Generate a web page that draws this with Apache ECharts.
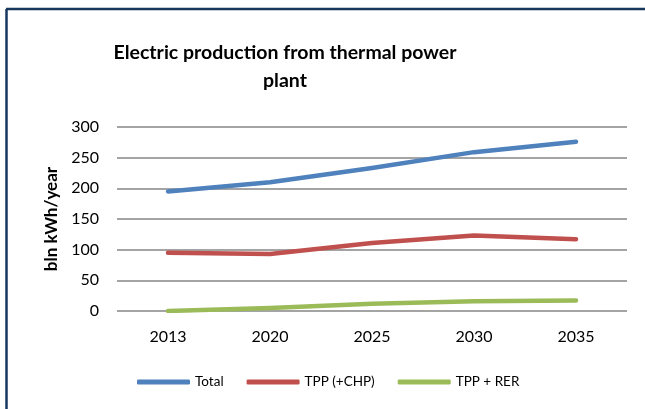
<!DOCTYPE html>
<html>
<head>
<meta charset="utf-8">
<script src="https://cdn.jsdelivr.net/npm/echarts@6/dist/echarts.min.js"></script>
<style>
  html, body { margin: 0; padding: 0; background: #fff; }
  #chart { width: 645px; height: 409px; }
</style>
</head>
<body>
<div id="chart"></div>
<script>
// data
const years = ['2013', '2020', '2025', '2030', '2035']
const total = [195, 210, 233, 259, 276]
const tppChp = [95, 93, 111, 123, 117]
const tppRer = [0, 5, 12, 16, 17]
const yTicks = { min: 0, max: 300, interval: 50 }

const chart = echarts.init(document.getElementById('chart'))

const lineSeries = (name, data, color) => ({
  name,
  type: 'line',
  data,
  symbol: 'none',
  smooth: false,
  lineStyle: { color, width: 4.5, cap: 'round', join: 'round' },
  itemStyle: { color }
})

chart.setOption({
  backgroundColor: '#fff',
  animation: false,
  textStyle: { fontFamily: 'Lato' },
  title: {
    text: 'Electric production from thermal power\nplant',
    left: 280,
    top: 34,
    textAlign: 'center',
    textStyle: { fontFamily: 'Lato', fontSize: 19.5, fontWeight: 'bold', color: '#000', lineHeight: 28 }
  },
  graphic: [
    { type: 'line', shape: { x1: 6, y1: 9, x2: 645, y2: 9 }, style: { stroke: '#17375E', lineWidth: 2.5 } },
    { type: 'line', shape: { x1: 6.5, y1: 9, x2: 6.5, y2: 409 }, style: { stroke: '#17375E', lineWidth: 2.5 } }
  ],
  legend: {
    left: 137,
    top: 375,
    padding: 0,
    icon: 'roundRect',
    itemWidth: 53,
    itemHeight: 5,
    itemGap: 23,
    textStyle: { fontFamily: 'Lato', fontSize: 13.5, color: '#000' },
    data: ['Total', 'TPP (+CHP)', 'TPP + RER']
  },
  grid: { left: 117, right: 18, top: 127, bottom: 98 },
  xAxis: {
    type: 'category',
    data: years,
    boundaryGap: true,
    axisLine: { show: false },
    axisTick: { show: false },
    axisLabel: { fontSize: 16, color: '#000', margin: 18 }
  },
  yAxis: {
    type: 'value',
    min: yTicks.min,
    max: yTicks.max,
    interval: yTicks.interval,
    name: 'bln kWh/year',
    nameLocation: 'middle',
    nameGap: 55,
    nameTextStyle: { fontFamily: 'Lato', fontSize: 17, fontWeight: 'bold', color: '#000' },
    axisLine: { show: false },
    axisTick: { show: false },
    axisLabel: { fontSize: 16, color: '#000', margin: 18 },
    splitLine: { lineStyle: { color: '#868686', width: 1.5 } }
  },
  series: [
    lineSeries('Total', total, '#4F81BD'),
    lineSeries('TPP (+CHP)', tppChp, '#C0504D'),
    lineSeries('TPP + RER', tppRer, '#9BBB59')
  ]
})
</script>
</body>
</html>
